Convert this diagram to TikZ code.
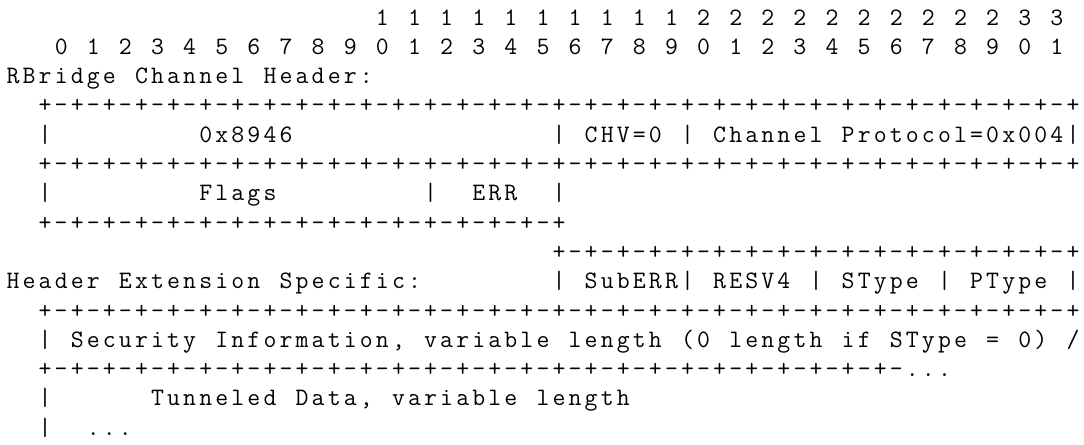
\documentclass[tikz,border=0pt]{standalone}
\usepackage{fontspec}
\newlength\cw
\setlength\cw{12.045pt}
\newcommand\sps[1]{\kern#1\cw\relax}
\def\mt#1{\mtloop#1\relax}
\def\mtloop#1{\ifx#1\relax\else\hbox to\cw{\hss#1\hss}\expandafter\mtloop\fi}
\newcommand\mtx[1]{\edef\mttmp{#1}\expandafter\mt\expandafter{\mttmp}}
\newcommand\bits{+-+-+-+-}
\tikzset{
  row/.style={anchor=base west, inner sep=0pt, outer sep=0pt,
    font=\ttfamily\fontsize{18.8pt}{24pt}\selectfont, text=black}
}
\begin{document}
\begin{tikzpicture}[x=0.75pt, y=-0.75pt]
\fill[white] (0,0) rectangle (1084,444);
\useasboundingbox (0,0) rectangle (1084,444);
\def\lh{29.3}
\node[row] (r0) at (5,{25+0*\lh}) {\sps{23}\mt{1~1~1~1~1~1~1~1~1~1~2~2~2~2~2~2~2~2~2~2~3~3}};
\node[row] (r1) at (5,{25+1*\lh}) {\sps{3}\mt{0~1~2~3~4~5~6~7~8~9~0~1~2~3~4~5~6~7~8~9~0~1~2~3~4~5~6~7~8~9~0~1}};
\node[row] (r2) at (5,{25+2*\lh}) {\mt{RBridge~Channel~Header:}};
\node[row] (r3) at (5,{25+3*\lh}) {\sps{2}\mtx{\bits\bits\bits\bits\bits\bits\bits\bits+}};
\node[row] (r4) at (5,{25+4*\lh}) {\sps{2}\mt{|}\sps{9}\mt{0x8946}\sps{16}\mt{|~CHV=0~|~Channel~Protocol=0x004|}};
\node[row] (r5) at (5,{25+5*\lh}) {\sps{2}\mtx{\bits\bits\bits\bits\bits\bits\bits\bits+}};
\node[row] (r6) at (5,{25+6*\lh}) {\sps{2}\mt{|}\sps{9}\mt{Flags}\sps{9}\mt{|}\sps{2}\mt{ERR}\sps{2}\mt{|}};
\node[row] (r7) at (5,{25+7*\lh}) {\sps{2}\mtx{\bits\bits\bits\bits+}};
\node[row] (r8) at (5,{25+8*\lh}) {\sps{34}\mtx{\bits\bits\bits\bits+}};
\node[row] (r9) at (5,{25+9*\lh}) {\mt{Header~Extension~Specific:}\sps{8}\mt{|~SubERR|~RESV4~|~SType~|~PType~|}};
\node[row] (r10) at (5,{25+10*\lh}) {\sps{2}\mtx{\bits\bits\bits\bits\bits\bits\bits\bits+}};
\node[row] (r11) at (5,{25+11*\lh}) {\sps{2}\mt{|~Security~Information,~variable~length~(0~length~if~SType~=~0)~/}};
\node[row] (r12) at (5,{25+12*\lh}) {\sps{2}\mtx{\bits\bits\bits\bits\bits\bits+-+-+-...}};
\node[row] (r13) at (5,{25+13*\lh}) {\sps{2}\mt{|}\sps{6}\mt{Tunneled~Data,~variable~length}};
\node[row] (r14) at (5,{25+14*\lh}) {\sps{2}\mt{|}\sps{2}\mt{...}};
\end{tikzpicture}
\end{document}
